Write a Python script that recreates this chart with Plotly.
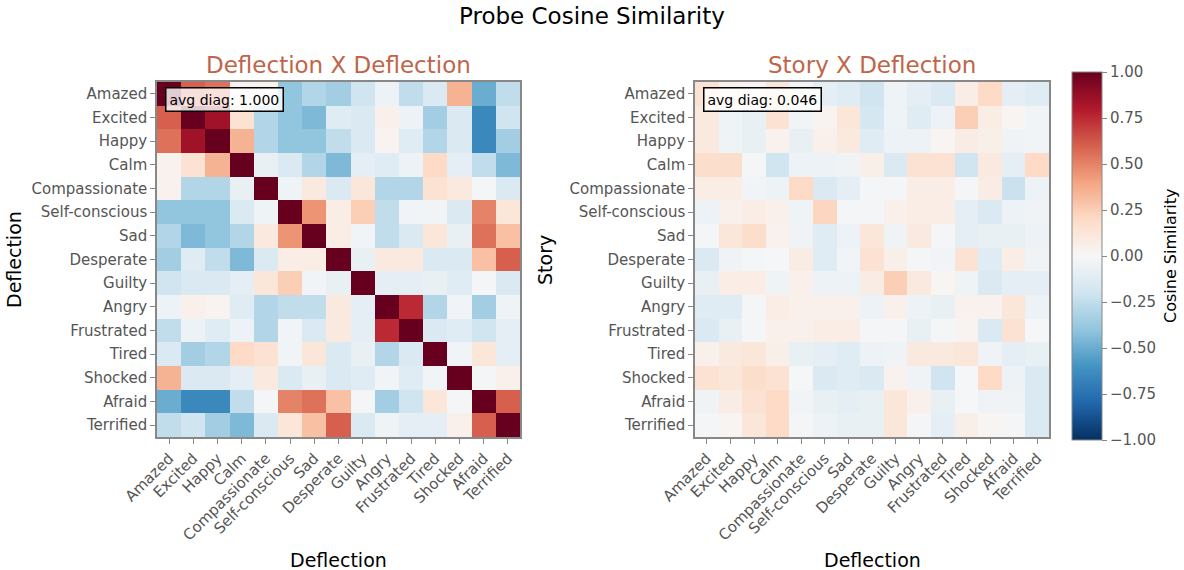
import plotly.graph_objects as go

emotions = ["Amazed", "Excited", "Happy", "Calm", "Compassionate", "Self-conscious", "Sad",
            "Desperate", "Guilty", "Angry", "Frustrated", "Tired", "Shocked", "Afraid", "Terrified"]

deflection_x_deflection = [
    [1.00, 0.60, 0.55, 0.04, 0.04, -0.40, -0.30, -0.35, -0.20, -0.06, -0.25, -0.15, 0.35, -0.50, -0.25],
    [0.60, 1.00, 0.85, 0.15, -0.30, -0.40, -0.45, -0.12, -0.15, 0.05, -0.06, -0.35, -0.15, -0.65, -0.20],
    [0.55, 0.85, 1.00, 0.35, -0.30, -0.40, -0.40, -0.25, -0.15, 0.03, -0.12, -0.30, -0.15, -0.65, -0.35],
    [0.04, 0.15, 0.35, 1.00, -0.08, -0.15, -0.30, -0.45, -0.10, -0.12, -0.06, 0.20, -0.10, -0.25, -0.45],
    [0.04, -0.30, -0.30, -0.08, 1.00, -0.05, 0.10, -0.15, 0.12, -0.30, -0.30, 0.15, 0.10, -0.02, -0.15],
    [-0.40, -0.40, -0.40, -0.15, -0.05, 1.00, 0.45, 0.07, 0.25, -0.25, -0.03, -0.03, -0.15, 0.50, 0.12],
    [-0.30, -0.45, -0.40, -0.30, 0.10, 0.45, 1.00, 0.07, -0.03, -0.25, -0.15, 0.12, -0.08, 0.55, 0.30],
    [-0.35, -0.12, -0.25, -0.45, -0.15, 0.07, 0.07, 1.00, -0.08, 0.10, 0.10, -0.15, -0.15, 0.30, 0.60],
    [-0.20, -0.15, -0.15, -0.10, 0.12, 0.25, -0.03, -0.08, 1.00, -0.10, -0.10, -0.08, -0.12, -0.02, -0.15],
    [-0.06, 0.05, 0.03, -0.12, -0.30, -0.25, -0.25, 0.10, -0.10, 1.00, 0.75, -0.30, -0.03, -0.35, -0.05],
    [-0.25, -0.06, -0.12, -0.06, -0.30, -0.03, -0.15, 0.10, -0.10, 0.75, 1.00, -0.15, -0.12, -0.20, -0.10],
    [-0.15, -0.35, -0.30, 0.20, 0.15, -0.03, 0.12, -0.15, -0.08, -0.30, -0.15, 1.00, -0.03, 0.12, -0.10],
    [0.35, -0.15, -0.15, -0.10, 0.10, -0.15, -0.08, -0.15, -0.12, -0.03, -0.12, -0.03, 1.00, -0.02, 0.05],
    [-0.50, -0.65, -0.65, -0.25, -0.02, 0.50, 0.55, 0.30, -0.02, -0.35, -0.20, 0.12, -0.02, 1.00, 0.60],
    [-0.25, -0.20, -0.35, -0.45, -0.15, 0.12, 0.30, 0.60, -0.15, -0.05, -0.10, -0.10, 0.05, 0.60, 1.00],
]

story_x_deflection = [
    [0.15, 0.05, 0.03, 0.12, -0.03, -0.10, -0.12, -0.20, -0.05, -0.10, -0.15, 0.07, 0.20, -0.10, -0.12],
    [0.10, -0.05, -0.08, 0.15, -0.03, 0.03, 0.12, -0.18, -0.05, -0.12, -0.06, 0.25, 0.07, 0.02, -0.03],
    [0.10, -0.05, -0.08, 0.04, -0.08, 0.05, 0.10, -0.12, -0.06, -0.06, 0.02, 0.08, 0.06, -0.04, -0.03],
    [0.18, 0.18, -0.02, -0.20, -0.06, -0.06, -0.04, 0.06, -0.15, 0.15, 0.15, -0.20, 0.10, -0.10, 0.20],
    [0.07, 0.07, -0.03, -0.06, 0.20, -0.15, -0.10, -0.02, -0.02, 0.07, 0.07, -0.02, 0.08, -0.22, -0.06],
    [-0.06, 0.05, 0.07, 0.05, -0.05, 0.22, -0.02, -0.02, 0.05, 0.07, 0.07, -0.10, -0.15, -0.06, -0.04],
    [-0.02, 0.12, 0.18, 0.04, -0.04, -0.12, -0.06, 0.12, -0.04, 0.10, -0.02, -0.10, -0.08, -0.08, -0.06],
    [-0.15, -0.04, -0.02, -0.01, 0.08, -0.12, -0.03, 0.15, 0.06, -0.02, -0.03, 0.15, -0.12, 0.07, -0.04],
    [-0.08, 0.07, 0.07, -0.05, 0.05, -0.06, -0.06, 0.08, 0.25, 0.10, 0.02, -0.05, -0.15, -0.10, -0.10],
    [-0.12, -0.12, -0.02, 0.07, 0.05, 0.05, 0.05, -0.06, 0.05, -0.06, -0.08, 0.04, 0.04, 0.12, -0.06],
    [-0.15, -0.08, -0.02, 0.05, 0.05, 0.07, 0.07, -0.02, -0.02, -0.08, -0.02, 0.03, -0.15, 0.15, -0.01],
    [0.05, 0.10, 0.12, 0.06, -0.08, -0.10, -0.12, -0.06, -0.04, 0.10, 0.10, 0.12, -0.04, -0.10, -0.08],
    [0.15, 0.12, 0.18, 0.15, -0.01, -0.15, -0.12, -0.15, 0.04, -0.04, -0.20, -0.01, 0.20, -0.06, -0.15],
    [-0.04, 0.08, 0.15, 0.20, -0.03, -0.08, -0.10, -0.08, 0.12, 0.05, -0.08, -0.01, -0.04, -0.04, -0.15],
    [-0.02, 0.02, 0.12, 0.20, -0.02, -0.06, -0.08, -0.08, 0.12, -0.02, -0.10, 0.06, 0.02, -0.02, -0.15],
]

avg_diag_labels = ["avg diag: 1.000", "avg diag: 0.046"]
subplot_titles = ["Deflection X Deflection", "Story X Deflection"]
y_titles = ["Deflection", "Story"]
x_title = "Deflection"
colorbar_title = "Cosine Similarity"
colorbar_ticks = [-1.0, -0.75, -0.5, -0.25, 0.0, 0.25, 0.5, 0.75, 1.0]

rdbu = ['rgb(5,48,97)', 'rgb(33,102,172)', 'rgb(67,147,195)', 'rgb(146,197,222)',
        'rgb(209,229,240)', 'rgb(247,247,247)', 'rgb(253,219,199)', 'rgb(244,165,130)',
        'rgb(214,96,77)', 'rgb(178,24,43)', 'rgb(103,0,31)']
colorscale = [[i / (len(rdbu) - 1), c] for i, c in enumerate(rdbu)]

W, H = 1184, 570
L, R, T, B = 157, 1049, 82, 437   # plot area in pixels
FONT = "DejaVu Sans"
GRAY = "#555555"

def px_x(p):
    return (p - L) / (R - L)

def px_y(p):
    return (B - p) / (B - T)

dom_x = [[px_x(157), px_x(520)], [px_x(695), px_x(1049)]]
dom_y = [0, 1]

fig = go.Figure()
for i, z in enumerate([deflection_x_deflection, story_x_deflection]):
    suffix = "" if i == 0 else "2"
    fig.add_trace(go.Heatmap(
        z=z, x=emotions, y=emotions, zmin=-1, zmax=1, colorscale=colorscale,
        xaxis="x" + suffix, yaxis="y" + suffix, showscale=(i == 1),
        colorbar=dict(
            x=px_x(1072), xanchor="left", y=px_y(256), yanchor="middle",
            xpad=0, ypad=0,
            len=368 / (B - T), lenmode="fraction", thickness=30,
            outlinecolor="#888888", outlinewidth=1,
            tickvals=colorbar_ticks, tickformat=".2f", ticks="outside", ticklen=5,
            tickcolor="#888888", tickfont=dict(family=FONT, size=15, color=GRAY),
        ),
    ))

axis_common = dict(
    showgrid=False, zeroline=False, showline=True, linecolor="#888888", linewidth=1.5,
    mirror=True, ticks="outside", ticklen=5, tickcolor="#888888", automargin=False,
    tickfont=dict(family=FONT, size=15, color=GRAY),
)
fig.update_layout(
    width=W, height=H, margin=dict(l=L, r=W - R, t=T, b=H - B, autoexpand=False),
    paper_bgcolor="white", plot_bgcolor="white",
    xaxis=dict(domain=dom_x[0], anchor="y", tickangle=-45, **axis_common),
    yaxis=dict(domain=dom_y, anchor="x", autorange="reversed", **axis_common),
    xaxis2=dict(domain=dom_x[1], anchor="y2", tickangle=-45, **axis_common),
    yaxis2=dict(domain=dom_y, anchor="x2", autorange="reversed", **axis_common),
)

ann = []
ann.append(dict(text="Probe Cosine Similarity", x=px_x(W / 2), y=px_y(16), xref="paper", yref="paper",
                showarrow=False, font=dict(family=FONT, size=23, color="black"),
                xanchor="center", yanchor="middle"))
ann.append(dict(text=colorbar_title, x=px_x(1170), y=px_y(256), xref="paper", yref="paper",
                showarrow=False, textangle=-90, font=dict(family=FONT, size=16, color="black"),
                xanchor="center", yanchor="middle"))
centers = [(157 + 520) / 2, (695 + 1049) / 2]
ytitle_x = [14, 545]
for i in range(2):
    ann.append(dict(text=subplot_titles[i], x=px_x(centers[i]), y=px_y(65), xref="paper", yref="paper",
                    showarrow=False, font=dict(family=FONT, size=23, color="#C0654A"),
                    xanchor="center", yanchor="middle"))
    ann.append(dict(text=x_title, x=px_x(centers[i]), y=px_y(560), xref="paper", yref="paper",
                    showarrow=False, font=dict(family=FONT, size=19, color="black"),
                    xanchor="center", yanchor="middle"))
    ann.append(dict(text=y_titles[i], x=px_x(ytitle_x[i]), y=px_y(260), xref="paper", yref="paper",
                    showarrow=False, textangle=-90, font=dict(family=FONT, size=19, color="black"),
                    xanchor="center", yanchor="middle"))
    ann.append(dict(text=avg_diag_labels[i], x=px_x(dom_x[i][0] * (R - L) + L + 8), y=px_y(87),
                    xref="paper", yref="paper",
                    showarrow=False, xanchor="left", yanchor="top",
                    font=dict(family=FONT, size=14, color="black"),
                    bgcolor="rgba(255,255,255,0.8)", bordercolor="black", borderwidth=1.5, borderpad=3))
fig.update_layout(annotations=ann)

fig.write_html("out.html")
